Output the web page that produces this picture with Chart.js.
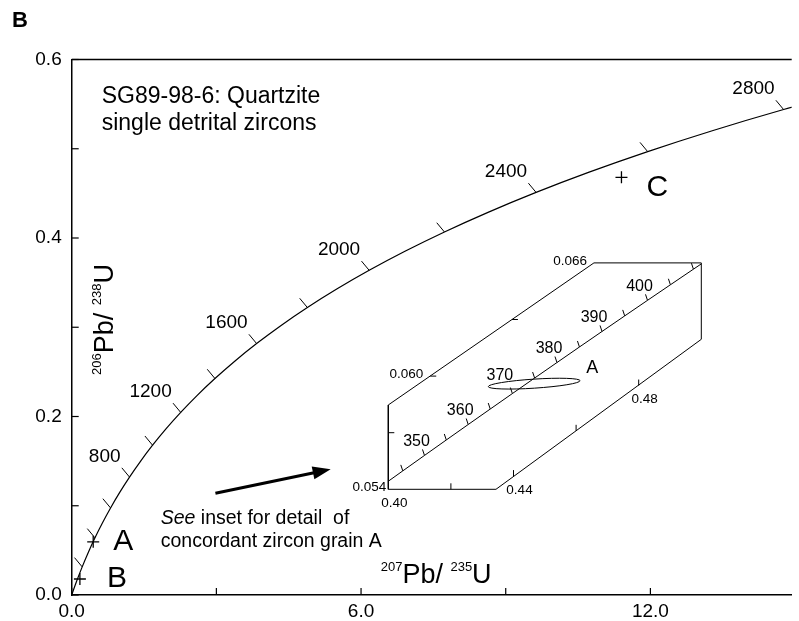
<!DOCTYPE html>
<html>
<head>
<meta charset="utf-8">
<script src="https://cdn.jsdelivr.net/npm/chart.js@4.4.1/dist/chart.umd.min.js"></script>
<style>
  body { margin: 0; background: #fff; }
  #wrap { position: relative; width: 799px; height: 621px; }
  canvas { position: absolute; }
</style>
</head>
<body>
<div id="wrap">
  <canvas id="main" width="799" height="621" style="left:0;top:0"></canvas>
  <canvas id="inset" width="400" height="300" style="left:330px;top:220px"></canvas>
</div>
<script>
// concordia, main diagram (age in Ma, 207Pb/235U, 206Pb/238U)
const concAges = [0, 100, 200, 300, 400, 500, 600, 700, 800, 900, 1000, 1100, 1200, 1300, 1400,
                  1500, 1600, 1700, 1800, 1900, 2000, 2100, 2200, 2300, 2400, 2500, 2600, 2700, 2800, 2900];
const concX = [0, 0.10350, 0.21771, 0.34374, 0.48281, 0.63628, 0.80563, 0.99251, 1.19873, 1.42630,
               1.67741, 1.95452, 2.26030, 2.59774, 2.97009, 3.38099, 3.83441, 4.33477, 4.88690, 5.49618,
               6.16853, 6.91046, 7.72916, 8.63261, 9.62957, 10.72971, 11.94372, 13.28335, 14.76166, 16.39296];
const concY = [0, 0.015633, 0.031511, 0.047637, 0.064016, 0.080650, 0.097544, 0.114702, 0.132130, 0.149828,
               0.167804, 0.186061, 0.204602, 0.223435, 0.242561, 0.261988, 0.281718, 0.301754, 0.322104, 0.342774,
               0.363767, 0.385086, 0.406741, 0.428732, 0.451070, 0.473753, 0.496794, 0.520193, 0.543960, 0.568098];
const ageLabels = [800, 1200, 1600, 2000, 2400, 2800];

// zircon grains
const sampleNames = ['A', 'B', 'C'];
const sampleX = [0.446, 0.170, 11.40];
const sampleY = [0.0596, 0.0179, 0.468];

// axes
const xTicks = [0, 3, 6, 9, 12];
const yTicks = [0, 0.1, 0.2, 0.3, 0.4, 0.5, 0.6];

// arrow pointing at the inset
const arrowFrom = [2.98, 0.114];
const arrowTo = [5.37, 0.141];

// inset: concordia 340-415 Ma
const insetAges = [340, 345, 350, 355, 360, 365, 370, 375, 380, 385, 390, 395, 400, 405, 410, 415];
const insetX = [0.397730, 0.404629, 0.411563, 0.418532, 0.425533, 0.432570, 0.439642, 0.446749,
                0.453890, 0.461068, 0.468280, 0.475529, 0.482812, 0.490132, 0.497488, 0.504880];
const insetY = [0.054158, 0.054976, 0.055795, 0.056614, 0.057434, 0.058254, 0.059075, 0.059897,
                0.060719, 0.061543, 0.062366, 0.063191, 0.064016, 0.064841, 0.065667, 0.066494];
const insetAgeLabels = [350, 360, 370, 380, 390, 400];

// inset frame
const insetBoxX = [0.40, 0.4344, 0.50, 0.50, 0.4657, 0.40, 0.40];
const insetBoxY = [0.054, 0.054, 0.06195, 0.066, 0.066, 0.05847, 0.054];
const insetXTicks = [0.42, 0.44, 0.46, 0.48];
const insetXTickY = [0.054, 0.0547, 0.0571, 0.0595];
const insetXLabels = [0.40, 0.44, 0.48];
const insetXLabelY = [0.054, 0.0547, 0.0595];
const insetYTicks = [0.057, 0.060, 0.063];
const insetYTickX = [0.40, 0.4134, 0.4395];
const insetYLabels = [0.054, 0.060, 0.066];
const insetYLabelX = [0.40, 0.4134, 0.4657];

// grain A error ellipse
const ellipseA = { x: 0.4466, y: 0.0596, sx: 0.0147, sy: 0.00024 };

const ink = '#000';
const fam = '"Liberation Sans", Arial, Helvetica, sans-serif';

function seg(ctx, x1, y1, x2, y2, w) {
    ctx.lineWidth = w;
    ctx.beginPath();
    ctx.moveTo(x1, y1);
    ctx.lineTo(x2, y2);
    ctx.stroke();
}

function ratioTitle(ctx, top, bottom, x, y) {
    const parts = [[top, true], ['Pb/ ', false], [bottom, true], ['U', false]];
    let cx = x;
    parts.forEach(([s, sup]) => {
        ctx.font = sup ? '13px ' + fam : '27px ' + fam;
        ctx.fillText(s, cx, sup ? y - 12 : y);
        cx += ctx.measureText(s).width;
    });
}

const mainDeco = {
    id: 'mainDeco',
    afterDraw(chart) {
        const ctx = chart.ctx;
        const xs = chart.scales.x, ys = chart.scales.y;
        const area = chart.chartArea;
        ctx.save();
        ctx.strokeStyle = ink;
        ctx.fillStyle = ink;
        ctx.lineCap = 'butt';

        // top frame line
        seg(ctx, area.left, area.top, area.right, area.top, 1.5);

        // inward axis ticks
        xTicks.forEach(v => {
            const px = xs.getPixelForValue(v);
            seg(ctx, px, area.bottom, px, area.bottom - 7, 1.2);
        });
        yTicks.forEach(v => {
            const py = ys.getPixelForValue(v);
            seg(ctx, area.left, py, area.left + 7, py, 1.2);
        });

        // age ticks on concordia
        ctx.font = '19px ' + fam;
        ctx.textAlign = 'right';
        ctx.textBaseline = 'middle';
        concAges.forEach((a, i) => {
            if (a === 0 || a % 200 !== 0) return;
            const px = xs.getPixelForValue(concX[i]);
            const py = ys.getPixelForValue(concY[i]);
            if (px > area.right) return;
            seg(ctx, px, py, px - 0.64 * 12, py - 0.77 * 12, 1);
            if (ageLabels.includes(a)) ctx.fillText(String(a), px - 9, py - 20.5);
        });

        // grain labels
        const offs = [[20, 8], [27, 8], [25, 19]];
        ctx.font = '30px ' + fam;
        ctx.textAlign = 'left';
        ctx.textBaseline = 'alphabetic';
        sampleNames.forEach((n, i) => {
            const px = xs.getPixelForValue(sampleX[i]);
            const py = ys.getPixelForValue(sampleY[i]);
            ctx.fillText(n, px + offs[i][0], py + offs[i][1]);
        });

        // arrow
        const ax1 = xs.getPixelForValue(arrowFrom[0]), ay1 = ys.getPixelForValue(arrowFrom[1]);
        const ax2 = xs.getPixelForValue(arrowTo[0]), ay2 = ys.getPixelForValue(arrowTo[1]);
        const ang = Math.atan2(ay2 - ay1, ax2 - ax1);
        const hl = 18, hw = 6.5;
        const bx = ax2 - hl * Math.cos(ang), by = ay2 - hl * Math.sin(ang);
        seg(ctx, ax1, ay1, bx + 1, by, 3);
        ctx.beginPath();
        ctx.moveTo(ax2, ay2);
        ctx.lineTo(bx - hw * Math.sin(ang), by + hw * Math.cos(ang));
        ctx.lineTo(bx + hw * Math.sin(ang), by - hw * Math.cos(ang));
        ctx.closePath();
        ctx.fill();

        // texts
        ctx.font = 'bold 22px ' + fam;
        ctx.fillText('B', 12, 27);
        ctx.font = '23px ' + fam;
        ctx.fillText('SG89-98-6: Quartzite', 101.7, 103.3);
        ctx.fillText('single detrital zircons', 101.7, 129.5);

        ctx.font = 'italic 19.5px ' + fam;
        ctx.fillText('See', 160.7, 524.3);
        const w = ctx.measureText('See').width;
        ctx.font = '19.5px ' + fam;
        ctx.fillText(' inset for detail  of', 160.7 + w, 524.3);
        ctx.fillText('concordant zircon grain A', 160.7, 547.3);

        // axis titles
        ratioTitle(ctx, '207', '235', 380.7, 583.3);
        ctx.save();
        ctx.translate(113.3, 375);
        ctx.rotate(-Math.PI / 2);
        ratioTitle(ctx, '206', '238', 0, 0);
        ctx.restore();

        ctx.restore();
    }
};

new Chart(document.getElementById('main'), {
    type: 'scatter',
    data: {
        datasets: [
            {
                data: concAges.map((a, i) => ({ x: concX[i], y: concY[i] })),
                showLine: true,
                borderColor: ink,
                borderWidth: 1.2,
                pointRadius: 0,
                cubicInterpolationMode: 'monotone'
            },
            {
                data: sampleNames.map((n, i) => ({ x: sampleX[i], y: sampleY[i] })),
                pointStyle: 'cross',
                pointRadius: 6,
                borderColor: ink,
                borderWidth: 1.3
            }
        ]
    },
    options: {
        responsive: false,
        animation: false,
        layout: { padding: { left: 0, right: 0, top: 59.5, bottom: 0 } },
        plugins: { legend: { display: false }, tooltip: { enabled: false } },
        scales: {
            x: {
                type: 'linear', min: 0, max: 14.93,
                afterFit: s => { s.height = 26; },
                grid: { display: false, drawTicks: false },
                border: { display: true, color: ink, width: 1.5 },
                ticks: {
                    stepSize: 3, autoSkip: false, maxRotation: 0, padding: 5,
                    color: ink, font: { family: fam, size: 19 },
                    callback: v => Math.abs(v / 6 - Math.round(v / 6)) < 1e-6 ? v.toFixed(1) : ''
                }
            },
            y: {
                type: 'linear', min: 0, max: 0.6,
                afterFit: s => { s.width = 71.7; },
                grid: { display: false, drawTicks: false },
                border: { display: true, color: ink, width: 1.5 },
                ticks: {
                    stepSize: 0.1, autoSkip: false, padding: 10,
                    color: ink, font: { family: fam, size: 19 },
                    callback: v => Math.round(v * 10) % 2 === 0 ? v.toFixed(1) : ''
                }
            }
        }
    },
    plugins: [mainDeco]
});

const insetDeco = {
    id: 'insetDeco',
    afterDraw(chart) {
        const ctx = chart.ctx;
        const xs = chart.scales.x, ys = chart.scales.y;
        ctx.save();
        ctx.strokeStyle = ink;
        ctx.fillStyle = ink;

        // frame ticks
        insetXTicks.forEach((v, i) => {
            const px = xs.getPixelForValue(v), py = ys.getPixelForValue(insetXTickY[i]);
            seg(ctx, px, py, px, py - 6, 1);
        });
        insetYTicks.forEach((v, i) => {
            const px = xs.getPixelForValue(insetYTickX[i]), py = ys.getPixelForValue(v);
            seg(ctx, px, py, px + 6, py, 1);
        });

        // frame labels
        ctx.font = '13.5px ' + fam;
        ctx.textAlign = 'right';
        ctx.textBaseline = 'middle';
        insetYLabels.forEach((v, i) => {
            const px = xs.getPixelForValue(insetYLabelX[i]), py = ys.getPixelForValue(v);
            ctx.fillText(v.toFixed(3), px - (i === 0 ? 2 : 7), py - 2);
        });
        ctx.textAlign = 'center';
        ctx.textBaseline = 'top';
        insetXLabels.forEach((v, i) => {
            const px = xs.getPixelForValue(v), py = ys.getPixelForValue(insetXLabelY[i]);
            ctx.fillText(v.toFixed(2), px + 6, py + 7);
        });

        // concordia age ticks (the 370 label sits higher, clear of the ellipse)
        ctx.font = '16px ' + fam;
        ctx.textBaseline = 'middle';
        insetAges.forEach((a, i) => {
            if (a < 345 || a > 410) return;
            const px = xs.getPixelForValue(insetX[i]), py = ys.getPixelForValue(insetY[i]);
            seg(ctx, px, py, px - 2, py - 6, 1);
            if (!insetAgeLabels.includes(a)) return;
            const lift = a === 370 ? 4.5 : 0;
            ctx.fillText(String(a), px - 8 - lift, py - 13.5 - lift);
        });

        // error ellipse of grain A
        const ex = xs.getPixelForValue(ellipseA.x), ey = ys.getPixelForValue(ellipseA.y);
        const rx = Math.abs(xs.getPixelForValue(ellipseA.x + ellipseA.sx) - ex);
        const ry = Math.abs(ys.getPixelForValue(ellipseA.y + ellipseA.sy) - ey);
        ctx.lineWidth = 1;
        ctx.beginPath();
        ctx.ellipse(ex, ey, rx, ry, -3.7 * Math.PI / 180, 0, 2 * Math.PI);
        ctx.stroke();

        ctx.font = '18px ' + fam;
        ctx.textAlign = 'left';
        ctx.textBaseline = 'alphabetic';
        ctx.fillText('A', ex + 52, ey - 11);
        ctx.restore();
    }
};

new Chart(document.getElementById('inset'), {
    type: 'scatter',
    data: {
        datasets: [
            {
                data: insetBoxX.map((x, i) => ({ x: x, y: insetBoxY[i] })),
                showLine: true,
                borderColor: ink,
                borderWidth: 1,
                pointRadius: 0,
                clip: false
            },
            {
                data: insetAges.map((a, i) => ({ x: insetX[i], y: insetY[i] })),
                showLine: true,
                borderColor: ink,
                borderWidth: 1,
                pointRadius: 0
            }
        ]
    },
    options: {
        responsive: false,
        animation: false,
        layout: { padding: { left: 58.3, right: 28.7, top: 42.9, bottom: 30.7 } },
        plugins: { legend: { display: false }, tooltip: { enabled: false } },
        scales: {
            x: { type: 'linear', min: 0.40, max: 0.50, display: false },
            y: { type: 'linear', min: 0.054, max: 0.066, display: false }
        }
    },
    plugins: [insetDeco]
});
</script>
</body>
</html>
